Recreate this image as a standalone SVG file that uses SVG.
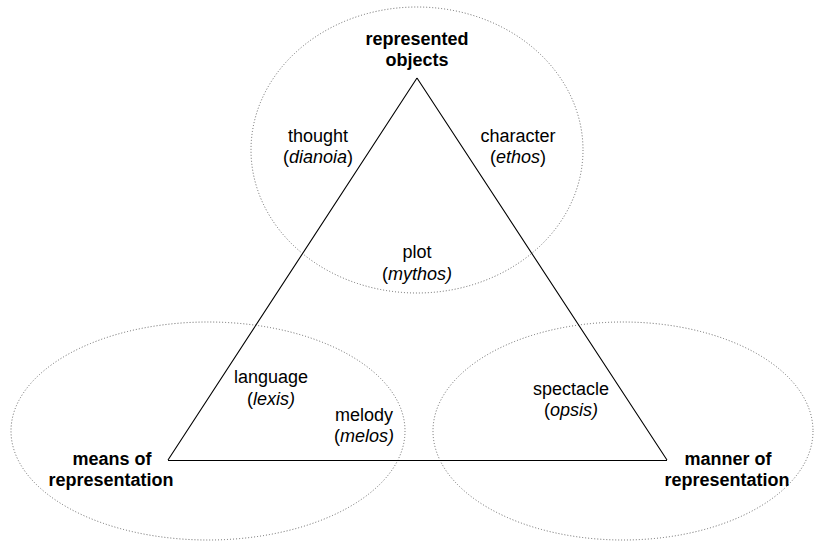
<svg xmlns="http://www.w3.org/2000/svg" width="815" height="542" viewBox="0 0 815 542">
  <style>
    .zone { fill: none; stroke: #666; stroke-width: 1; stroke-dasharray: 1 2; }
    .edge { fill: none; stroke: #000; stroke-width: 1.1; }
    text { font-family: "Liberation Sans", Arial, sans-serif; font-size: 18px; fill: #000; text-anchor: middle; }
    .head { font-weight: bold; }
  </style>
  <rect width="815" height="542" fill="#fff"/>

  <!-- dotted regions around each corner -->
  <g id="regions">
    <ellipse id="region-objects" class="zone" cx="417" cy="150" rx="166" ry="143"/>
    <ellipse id="region-means" class="zone" cx="208" cy="431" rx="197" ry="109"/>
    <ellipse id="region-manner" class="zone" cx="623" cy="431" rx="190" ry="109"/>
  </g>

  <!-- triangle edges -->
  <g id="connectors">
    <path class="edge" d="M417 78 L168 460 M417 78 L667 460"/>
    <path class="edge" d="M168 460.5 H667" stroke="#444"/>
  </g>

  <g id="node-objects">
    <text class="head" x="417" y="45">represented</text>
    <text class="head" x="417" y="66">objects</text>
  </g>
  <g id="node-means">
    <text class="head" x="112" y="465">means of</text>
    <text class="head" x="111" y="486">representation</text>
  </g>
  <g id="node-manner">
    <text class="head" x="728" y="465">manner of</text>
    <text class="head" x="727" y="486">representation</text>
  </g>

  <g id="node-thought">
    <text x="318" y="142">thought</text>
    <text x="318" y="163">(<tspan font-style="italic">dianoia</tspan>)</text>
  </g>
  <g id="node-character">
    <text x="518" y="142">character</text>
    <text x="518" y="163">(<tspan font-style="italic">ethos</tspan>)</text>
  </g>
  <g id="node-plot">
    <text x="417" y="258">plot</text>
    <text x="417" y="280">(<tspan font-style="italic">mythos)</tspan></text>
  </g>
  <g id="node-language">
    <text x="271" y="383">language</text>
    <text x="271" y="405">(<tspan font-style="italic">lexis)</tspan></text>
  </g>
  <g id="node-melody">
    <text x="364" y="421">melody</text>
    <text x="364" y="442">(<tspan font-style="italic">melos)</tspan></text>
  </g>
  <g id="node-spectacle">
    <text x="571" y="395">spectacle</text>
    <text x="571" y="416">(<tspan font-style="italic">opsis)</tspan></text>
  </g>
</svg>
